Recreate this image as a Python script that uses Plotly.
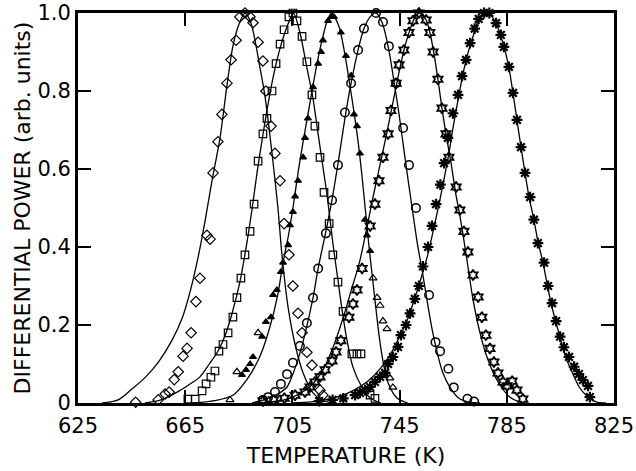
import plotly.graph_objects as go

# ---------------- data ----------------
x_ticks = [625, 665, 705, 745, 785, 825]
y_ticks = [0, 0.2, 0.4, 0.6, 0.8, 1.0]
y_tick_text = ["0", "0.2", "0.4", "0.6", "0.8", "1.0"]

# fitted curves (temperature K, normalised power)
dia_line_T = [634, 640, 645, 650, 655, 660, 664, 667, 670, 672.5, 675, 678, 680.6, 682.8, 685, 687.3,
              689.5, 692.9, 694.8, 697.4, 699.6, 701.1, 703.4, 706, 709, 712.7, 716, 720]
dia_line_y = [0.0, 0.008, 0.035, 0.065, 0.105, 0.16, 0.22, 0.29, 0.38, 0.47, 0.57, 0.68, 0.815, 0.915, 0.97, 1.0,
              0.975, 0.86, 0.785, 0.64, 0.50, 0.38, 0.245, 0.15, 0.077, 0.026, 0.007, 0.0]

sq_line_T = [650, 656, 662, 666, 670.5, 674, 677, 680, 682.5, 685.4, 688, 690, 691.8, 693.7, 695.5, 697.8,
             700.4, 703, 705.4, 707.8, 710.4, 712.7, 714.6, 716.4, 718, 720.1, 722, 723.5, 725.4, 727.6,
             731, 734, 738]
sq_line_y = [0.0, 0.008, 0.028, 0.045, 0.067, 0.10, 0.13, 0.175, 0.23, 0.31, 0.41, 0.50, 0.59, 0.675, 0.75, 0.835,
             0.91, 0.965, 1.0, 0.95, 0.86, 0.78, 0.69, 0.605, 0.53, 0.41, 0.315, 0.24, 0.16, 0.092,
             0.04, 0.013, 0.0]

tri_line_T = [668, 676, 682.8, 688, 692.9, 696.6, 699.6, 701.5, 703.4, 705.2, 707.1, 709, 710.8, 712.7, 714.6,
              716.4, 718, 719.6, 722.4, 724.3, 726.1, 728, 729.6, 731, 732.3, 733.6, 734.9, 736.2, 737.5,
              739, 740.8, 744, 748]
tri_line_y = [0.0, 0.006, 0.02, 0.06, 0.12, 0.195, 0.28, 0.36, 0.425, 0.50, 0.59, 0.67, 0.74, 0.815, 0.885,
              0.94, 0.98, 1.0, 0.965, 0.905, 0.83, 0.745, 0.665, 0.58, 0.49, 0.40, 0.32, 0.24, 0.165,
              0.10, 0.05, 0.013, 0.0]

cir_line_T = [690, 695, 700, 703, 705.5, 707.8, 709.8, 712.7, 714.6, 717.5, 720, 722.5, 724.6, 726.9, 729.5,
              731.7, 734, 736.2, 738.5, 741, 742.9, 744.8, 746.5, 748.2, 750, 751.6, 753.4, 755.2, 757.1,
              759, 761, 763.8, 767, 771, 775]
cir_line_y = [0.0, 0.01, 0.025, 0.041, 0.08, 0.128, 0.18, 0.27, 0.345, 0.44, 0.53, 0.635, 0.73, 0.82, 0.905,
              0.96, 0.99, 1.0, 0.975, 0.905, 0.825, 0.74, 0.655, 0.57, 0.485, 0.41, 0.34, 0.265, 0.19,
              0.13, 0.08, 0.04, 0.013, 0.002, 0.0]

star_line_T = [690, 697, 703, 708, 712, 716, 720, 724, 727, 730, 732.5, 735, 737.5, 740, 742.5, 745, 747, 749,
               750.8, 752.3, 754.9, 756.3, 757.8, 759.3, 760.8, 762.3, 764.2, 766, 767.5, 768.7, 770.5, 772.4,
               775, 777.6, 781.3, 786.2, 791]
star_line_y = [0.0, 0.003, 0.01, 0.025, 0.045, 0.08, 0.14, 0.22, 0.29, 0.36, 0.44, 0.525, 0.605, 0.685, 0.77,
               0.855, 0.915, 0.96, 0.99, 1.0, 0.982, 0.95, 0.897, 0.83, 0.756, 0.69, 0.615, 0.535, 0.48,
               0.43, 0.35, 0.265, 0.18, 0.118, 0.059, 0.015, 0.0]

ast_line_T = [705, 712, 718, 723, 728, 733, 738, 742, 745, 748, 750.5, 753, 755.5, 757.5, 759.7, 761.6, 763.4,
              764.9, 766.8, 768.7, 770.5, 772.4, 774, 777.2, 779.5, 781, 782.8, 784.3, 785.8, 787.3, 788.8,
              790.3, 791.8, 793.3, 795.1, 796.6, 798.5, 800, 801.5, 803.4, 805.2, 807.1, 809.7, 812, 814.6,
              818.3, 822]
ast_line_y = [0.0, 0.003, 0.009, 0.018, 0.033, 0.055, 0.09, 0.13, 0.17, 0.215, 0.265, 0.32, 0.38, 0.44, 0.51,
              0.575, 0.64, 0.705, 0.777, 0.846, 0.897, 0.94, 0.975, 1.0, 0.99, 0.974, 0.94, 0.905, 0.86,
              0.795, 0.725, 0.656, 0.59, 0.528, 0.47, 0.415, 0.36, 0.307, 0.256, 0.205, 0.16, 0.115, 0.074,
              0.041, 0.02, 0.003, 0.0]

# measured points
dia_T = [646.5, 654.9, 657.5, 659.0, 660.9, 662.4, 664.2, 665.7, 667.2, 669.0, 670.5, 673.1, 674.3, 675.4,
         677.2, 678.7, 680.6, 682.1, 684.0, 685.4, 687.3, 689.2, 690.3, 692.2, 694.0, 695.1, 697.0, 698.5,
         700.4, 701.9, 703.7, 705.2, 707.1, 708.6, 710.4, 712.3, 715.3, 716.4]
dia_y = [0.002, 0.008, 0.023, 0.028, 0.06, 0.08, 0.12, 0.14, 0.18, 0.26, 0.32, 0.43, 0.42, 0.59,
         0.67, 0.74, 0.82, 0.88, 0.93, 0.99, 1.0, 0.99, 0.975, 0.925, 0.877, 0.80, 0.71, 0.64,
         0.57, 0.46, 0.38, 0.30, 0.23, 0.18, 0.13, 0.097, 0.033, 0.02]

sq_T = [666.0, 668.7, 671.3, 672.8, 674.6, 676.1, 677.6, 679.1, 681.0, 682.8, 684.3, 685.8, 687.3, 689.2,
        690.7, 692.2, 694.0, 695.5, 697.4, 698.9, 700.4, 701.9, 703.7, 705.2, 706.7, 708.6, 710.4, 712.3,
        713.4, 715.3, 716.8, 718.7, 720.1, 722.0, 723.9, 727.2, 729.1, 730.6, 734.0, 735.8]
sq_y = [0.01, 0.01, 0.031, 0.049, 0.066, 0.082, 0.133, 0.15, 0.18, 0.22, 0.27, 0.32, 0.38, 0.44,
        0.51, 0.62, 0.69, 0.73, 0.80, 0.87, 0.92, 0.957, 0.99, 1.0, 0.98, 0.94, 0.875, 0.79,
        0.71, 0.63, 0.54, 0.46, 0.38, 0.31, 0.235, 0.126, 0.126, 0.126, 0.02, 0.012]

tri_T = [686.2, 687.7, 689.2, 690.3, 693.7, 695.1, 697.0, 697.8, 699.2, 700.7, 701.5, 703.4, 704.1, 705.2,
         706.0, 707.1, 709.0, 709.7, 710.8, 712.7, 714.6, 715.7, 716.4, 718.3, 719.8, 720.5, 723.1, 725.0,
         726.9, 728.0, 729.1, 730.2, 732.1, 732.8, 734.0]
tri_y = [0.072, 0.085, 0.10, 0.118, 0.17, 0.208, 0.22, 0.277, 0.29, 0.336, 0.36, 0.405, 0.456, 0.49,
         0.53, 0.57, 0.63, 0.68, 0.73, 0.81, 0.87, 0.90, 0.93, 0.98, 0.99, 0.99, 0.95, 0.89,
         0.84, 0.74, 0.71, 0.64, 0.47, 0.43, 0.39]
tri_open_T = [681.7, 684.3, 692.2, 735.1, 736.6, 737.7, 738.8, 740.3, 741.4, 742.5]
tri_open_y = [0.008, 0.08, 0.18, 0.32, 0.27, 0.25, 0.21, 0.19, 0.064, 0.04]

cir_T = [694.0, 695.9, 698.5, 700.7, 703.0, 705.2, 707.8, 710.4, 712.7, 714.6, 717.5, 719.8, 722.0, 724.6,
         726.9, 729.5, 731.7, 736.2, 738.8, 741.0, 743.7, 746.3, 748.5, 751.1, 756.0, 758.4, 760.1, 763.2,
         765.2, 770.3, 772.8]
cir_y = [0.008, 0.015, 0.028, 0.049, 0.074, 0.103, 0.146, 0.205, 0.27, 0.345, 0.435, 0.52, 0.61, 0.745,
         0.82, 0.905, 0.96, 1.0, 0.977, 0.915, 0.82, 0.705, 0.61, 0.50, 0.277, 0.156, 0.133, 0.088,
         0.04, 0.011, 0.004]

star_T = [694, 698, 702, 706, 709.7, 711.6, 713.4, 715.3, 717.2, 719.8, 721.3, 723.1, 726.1, 727.6, 729.1,
          731.0, 734.0, 735.8, 737.3, 738.8, 740.7, 741.8, 743.7, 744.8, 746.6, 748.5, 750.0, 752.2, 754.9,
          756.3, 757.5, 759.3, 760.8, 762.3, 763.4, 766.1, 767.5, 769.0, 770.5, 772.4, 774.3, 775.7, 777.2,
          778.7, 780.2, 781.7, 783.6, 785.1, 787.0, 788.8, 791.0]
star_y = [0.005, 0.008, 0.012, 0.02, 0.028, 0.041, 0.054, 0.067, 0.085, 0.108, 0.131, 0.16, 0.22, 0.254, 0.29,
          0.345, 0.454, 0.51, 0.57, 0.63, 0.69, 0.75, 0.82, 0.867, 0.905, 0.95, 0.98, 1.0, 0.982,
          0.95, 0.90, 0.83, 0.756, 0.69, 0.63, 0.554, 0.495, 0.44, 0.387, 0.328, 0.272, 0.22, 0.174,
          0.14, 0.105, 0.077, 0.054, 0.044, 0.056, 0.033, 0.01]

ast_T = [715, 720, 724, 728.4, 730.2, 732.1, 734.0, 735.8, 737.7, 739.6, 740.7, 742.5, 744.4, 745.5, 747.4,
         748.9, 750.7, 752.2, 753.7, 755.6, 757.1, 758.6, 760.2, 761.6, 763.0, 764.9, 766.8, 768.3, 769.8,
         771.3, 773.0, 774.5, 776.5, 778.5, 781.0, 782.8, 783.9, 785.8, 787.3, 788.8, 790.3, 791.8, 793.7,
         795.1, 796.6, 798.9, 800.4, 801.9, 803.4, 804.9, 806.3, 808.2, 810.1, 811.9, 813.4, 815.3, 816.0]
ast_y = [0.005, 0.008, 0.012, 0.02, 0.026, 0.033, 0.041, 0.054, 0.067, 0.077, 0.10, 0.118, 0.144, 0.174, 0.20,
         0.23, 0.267, 0.30, 0.35, 0.40, 0.454, 0.51, 0.56, 0.615, 0.68, 0.743, 0.79, 0.838, 0.88,
         0.923, 0.96, 0.985, 1.0, 1.0, 0.974, 0.944, 0.913, 0.862, 0.795, 0.726, 0.656, 0.59, 0.528,
         0.47, 0.41, 0.36, 0.30, 0.256, 0.21, 0.17, 0.143, 0.118, 0.093, 0.074, 0.059, 0.044, 0.015]

# ---------------- figure ----------------
fig = go.Figure()

for lt, ly in [(dia_line_T, dia_line_y), (sq_line_T, sq_line_y), (tri_line_T, tri_line_y),
               (cir_line_T, cir_line_y), (star_line_T, star_line_y), (ast_line_T, ast_line_y)]:
    fig.add_trace(go.Scatter(x=lt, y=ly, mode="lines", line=dict(color="black", width=1.3, shape="spline",
                                                                   smoothing=0.8),
                             hoverinfo="skip", showlegend=False))

def pts(x, y, symbol, size, lw=1.2):
    fig.add_trace(go.Scatter(x=x, y=y, mode="markers", cliponaxis=False, showlegend=False,
                             marker=dict(symbol=symbol, size=size, color="black",
                                         line=dict(color="black", width=lw))))

pts(dia_T, dia_y, "diamond-open", 8)
pts(sq_T, sq_y, "square-open", 7.5)
pts(tri_T, tri_y, "triangle-up", 6)
pts(tri_open_T, tri_open_y, "triangle-up-open", 7)
pts(cir_T, cir_y, "circle-open", 8.5, 1.5)
pts(star_T, star_y, "hexagram-open", 8, 1.8)
pts(ast_T, ast_y, "asterisk-open", 9, 2.2)

font_family = "DejaVu Sans, sans-serif"
fig.update_layout(
    width=636, height=471,
    margin=dict(l=78, r=22, t=13, b=68),
    paper_bgcolor="white", plot_bgcolor="white",
    font=dict(family=font_family, color="black", size=20),
    xaxis=dict(range=[625, 825], tickvals=x_ticks, ticks="inside", ticklen=13, tickwidth=2,
               tickcolor="black", showline=True, linewidth=3, linecolor="black", mirror="ticks",
               showgrid=False, zeroline=False, tickfont=dict(size=21), automargin=False,
               ticklabeloverflow="allow", ticklabelstandoff=2,
               title=dict(text="TEMPERATURE (K)", font=dict(size=22), standoff=11)),
    yaxis=dict(range=[0, 1.0], tickvals=y_ticks, ticktext=y_tick_text, ticks="inside", ticklen=13,
               tickwidth=2, tickcolor="black", showline=True, linewidth=3, linecolor="black",
               mirror="ticks", showgrid=False, zeroline=False, tickfont=dict(size=21), automargin=False,
               ticklabeloverflow="allow",
               title=dict(text="DIFFERENTIAL POWER (arb. units)", font=dict(size=22), standoff=1)),
)

# remove the browser's default 8px body margin so the figure fills the window exactly
fig.write_html("out.html", config={"displayModeBar": False},
               post_script="document.body.style.margin='0';")
